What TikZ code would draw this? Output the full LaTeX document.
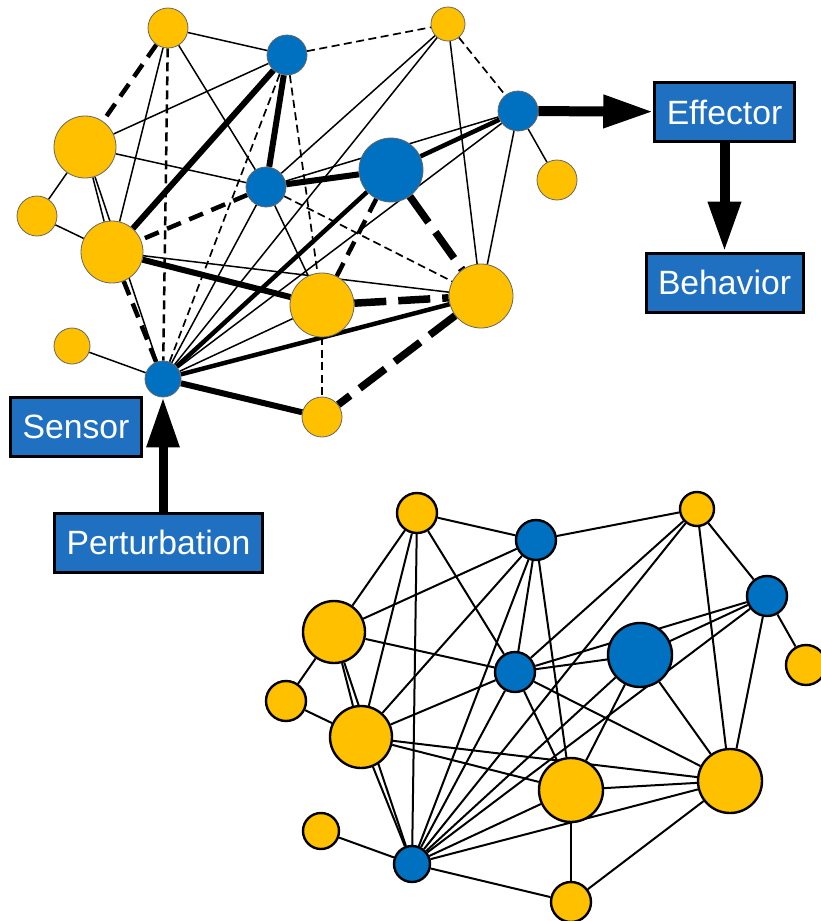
\documentclass[tikz,border=0pt]{standalone}
\usepackage{fontspec}
\setmainfont{Liberation Sans}
\usetikzlibrary{backgrounds,arrows.meta}

\definecolor{gold}{RGB}{255,192,0}
\definecolor{deepblue}{RGB}{0,112,192}
\definecolor{boxblue}{RGB}{31,112,193}

\tikzset{
    ball/.style={circle,inner sep=0pt,draw=black!60,line width=0.8pt},
    lowball/.style={circle,inner sep=0pt,draw=black,line width=2.4pt},
    tag/.style={draw=black,line width=3pt,fill=boxblue,text=white,inner xsep=12pt,
        minimum height=59pt,font=\fontsize{33.7pt}{40pt}\selectfont},
    push/.style={line width=#1,-{Triangle[length=50pt,width=31pt]}},
    thinln/.style={line width=1.5pt},
    lowln/.style={line width=2pt},
    thickln/.style={line width=4.5pt},
    fatln/.style={line width=6pt},
    thindash/.style={line width=1.7pt,dash pattern=on 8pt off 4.5pt},
    meddash/.style={line width=2.5pt,dash pattern=on 9pt off 5pt},
    thickdash/.style={line width=4.5pt,dash pattern=on 15pt off 9pt},
    fatdash/.style={line width=7.5pt,dash pattern=on 32pt off 12pt}
}

% links of the upper net, sorted by how they are drawn
\newcommand\thinlist{a/b,a/j,a/f,b/e,c/f,c/n,c/l,d/f,d/h,d/l,d/n,e/f,e/i,e/j,e/n,f/k,f/n,i/j,j/l,m/n,k/n}
\newcommand\dashlist{b/c,b/n,b/k,c/d,f/l,k/o}
\newcommand\middashlist{a/n}
\newcommand\thickdashlist{a/e,f/j,g/k,j/n}
\newcommand\fatdashlist{k/l,l/o,g/l}
\newcommand\thicklist{d/g,g/n,l/n}
\newcommand\fatlist{b/j,b/f,f/g,j/k,n/o}

\begin{document}
\begin{tikzpicture}[x=1pt,y=-1pt]
    \useasboundingbox (0,0) rectangle (820,921);
    % both nets, the lower one shifted by (249,485)
    \foreach \p/\dx/\dy/\st in {t/0/0/ball,u/249/485/lowball}{
        \foreach \n/\x/\y/\r/\c in {a/168/28/20/gold,b/287/55/20/deepblue,c/448/24/17/gold,
            d/518/111/20/deepblue,e/85/147/31/gold,f/266/187/20/deepblue,g/391/170/32/deepblue,
            h/557/180/20/gold,i/37/216/20/gold,j/112/252/31/gold,k/322/305/32/gold,
            l/481/296/32/gold,m/72/346/18/gold,n/163/379/18/deepblue,o/322/417/20/gold}{
            \node[\st,fill=\c,minimum size=2*\r pt] (\p\n) at (\x+\dx,\y+\dy) {};
        }
    };

    \node[tag] (sensor) at (76,427) {Sensor};
    \node[tag] (pert) at (158.5,542.5) {Perturbation};
    \node[tag] (eff) at (724.5,112) {Effector};
    \node[tag] (beh) at (724.5,282.5) {Behavior};

    \begin{scope}[on background layer]
        \foreach \u/\v in \thinlist{
            \draw[thinln] (t\u) -- (t\v);
            \draw[lowln] (u\u) -- (u\v);
        }
        \foreach \u/\v in \dashlist{
            \draw[thindash] (t\u) -- (t\v);
            \draw[lowln] (u\u) -- (u\v);
        }
        \foreach \u/\v in \middashlist{
            \draw[meddash] (t\u) -- (t\v);
            \draw[lowln] (u\u) -- (u\v);
        }
        \foreach \u/\v in \thickdashlist{
            \draw[thickdash] (t\u) -- (t\v);
            \draw[lowln] (u\u) -- (u\v);
        }
        \foreach \u/\v in \fatdashlist{
            \draw[fatdash] (t\u) -- (t\v);
            \draw[lowln] (u\u) -- (u\v);
        }
        \foreach \u/\v in \thicklist{
            \draw[thickln] (t\u) -- (t\v);
            \draw[lowln] (u\u) -- (u\v);
        }
        \foreach \u/\v in \fatlist{
            \draw[fatln] (t\u) -- (t\v);
            \draw[lowln] (u\u) -- (u\v);
        }
    \end{scope}

    \draw[push=10pt] (td) -- (eff);
    \draw[push=10pt] (eff) -- (beh);
    \draw[push=9pt] (pert.north -| tn) -- (tn);
\end{tikzpicture}
\end{document}
